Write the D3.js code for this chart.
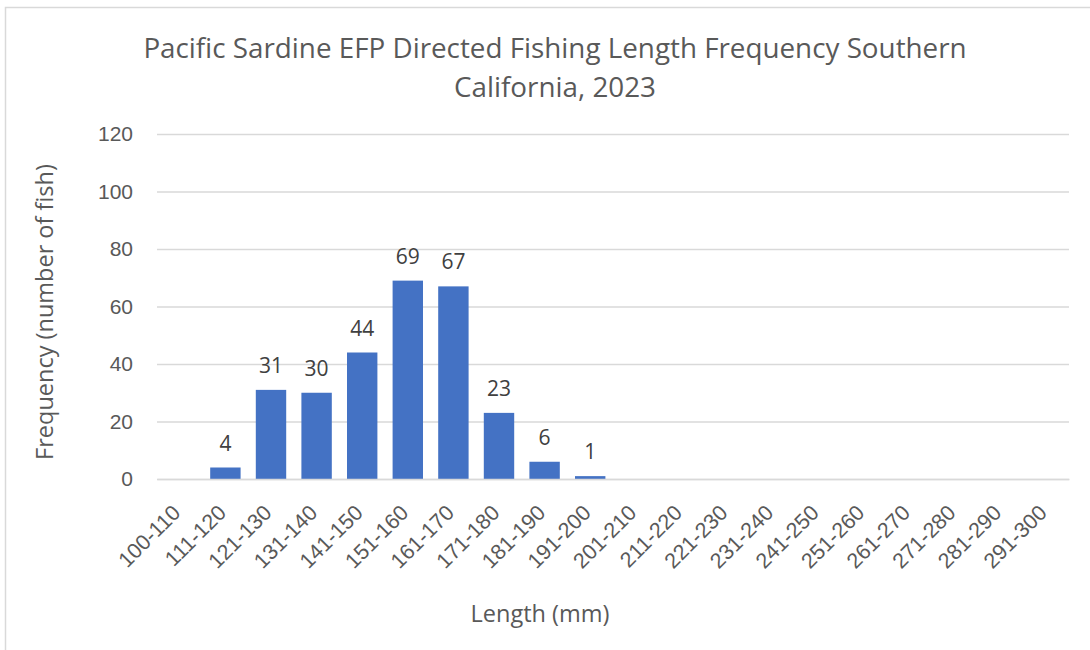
<!DOCTYPE html>
<html>
<head>
<meta charset="utf-8">
<script src="https://cdn.jsdelivr.net/npm/d3@7"></script>
<style>
  body { margin: 0; background: #fff; }
  svg { display: block; font-family: "Open Sans", sans-serif; }
</style>
</head>
<body>
<div id="chart"></div>
<script>
// length bins (mm) and fish counts
const bins = ['100-110', '111-120', '121-130', '131-140', '141-150', '151-160', '161-170',
  '171-180', '181-190', '191-200', '201-210', '211-220', '221-230', '231-240', '241-250',
  '251-260', '261-270', '271-280', '281-290', '291-300']
const counts = [0, 4, 31, 30, 44, 69, 67, 23, 6, 1, 0, 0, 0, 0, 0, 0, 0, 0, 0, 0]
const yTicks = [0, 20, 40, 60, 80, 100, 120]
const titleLines = ['Pacific Sardine EFP Directed Fishing Length Frequency Southern', 'California, 2023']

const width = 1090, height = 650
const margin = { top: 134, right: 21, bottom: 171, left: 157 }

const svg = d3.select('#chart').append('svg')
  .attr('width', width)
  .attr('height', height)

// chart frame
svg.append('rect')
  .attr('x', 5.5).attr('y', 7.5)
  .attr('width', width + 10).attr('height', height + 10)
  .attr('fill', 'none').attr('stroke', '#d9d9d9').attr('stroke-width', 1.5)

const x = d3.scaleBand()
  .domain(bins)
  .range([margin.left, width - margin.right])
  .paddingInner(1 / 3)
  .paddingOuter(1 / 6)

const y = d3.scaleLinear()
  .domain([0, 120])
  .range([height - margin.bottom, margin.top])

// gridlines + y labels
const yAxis = svg.append('g')
  .attr('transform', `translate(${margin.left},0)`)
  .call(d3.axisLeft(y).tickValues(yTicks).tickSize(-(width - margin.left - margin.right)).tickPadding(24))
yAxis.select('.domain').remove()
yAxis.selectAll('.tick line').attr('stroke', '#d9d9d9').attr('stroke-width', 1.3)
yAxis.selectAll('.tick text')
  .attr('fill', '#595959').attr('font-size', 21)

// bars
svg.append('g')
  .selectAll('rect')
  .data(counts)
  .join('rect')
  .attr('x', (d, i) => x(bins[i]))
  .attr('width', x.bandwidth())
  .attr('y', d => y(d))
  .attr('height', d => y(0) - y(d))
  .attr('fill', '#4472c4')

// data labels (only non-empty bins)
svg.append('g')
  .selectAll('text')
  .data(counts.map((c, i) => [bins[i], c]).filter(d => d[1] > 0))
  .join('text')
  .attr('x', d => x(d[0]) + x.bandwidth() / 2)
  .attr('y', d => y(d[1]) - 17)
  .attr('text-anchor', 'middle')
  .attr('fill', '#404040')
  .attr('font-size', 21)
  .text(d => d[1])

// x axis line + rotated category labels
const xAxis = svg.append('g')
  .attr('transform', `translate(0,${y(0)})`)
  .call(d3.axisBottom(x).tickSize(0).tickPadding(0))
xAxis.select('.domain').attr('stroke', '#d9d9d9').attr('stroke-width', 1.5)
xAxis.selectAll('.tick text')
  .attr('fill', '#595959')
  .attr('font-size', 21.5)
  .attr('text-anchor', 'end')
  .attr('dy', 0)
  .attr('transform', 'translate(2,35) rotate(-45)')

// title
svg.append('text')
  .attr('text-anchor', 'middle')
  .attr('fill', '#595959')
  .attr('font-size', 27.8)
  .selectAll('tspan')
  .data(titleLines)
  .join('tspan')
  .attr('x', 555)
  .attr('y', (d, i) => 58 + i * 39)
  .text(d => d)

// axis titles
svg.append('text')
  .attr('x', 540).attr('y', 622)
  .attr('text-anchor', 'middle')
  .attr('fill', '#595959')
  .attr('font-size', 23.5)
  .text('Length (mm)')

svg.append('text')
  .attr('transform', 'translate(53,312) rotate(-90)')
  .attr('text-anchor', 'middle')
  .attr('fill', '#595959')
  .attr('font-size', 23.5)
  .text('Frequency (number of fish)')
</script>
</body>
</html>
